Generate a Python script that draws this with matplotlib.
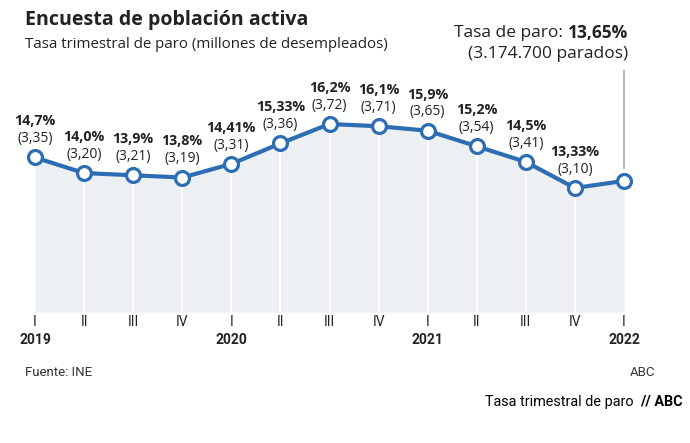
"""
Encuesta de población activa - tasa trimestral de paro
"""

import matplotlib
matplotlib.use('Agg')
import matplotlib.pyplot as plt

plt.rcParams['font.family'] = ['Open Sans', 'DejaVu Sans']

# ==================== datos ====================

trimestres = ['I', 'II', 'III', 'IV', 'I', 'II', 'III', 'IV', 'I', 'II', 'III', 'IV', 'I']
anios = {0: '2019', 4: '2020', 8: '2021', 12: '2022'}
tasa = [14.7, 14.0, 13.9, 13.8, 14.41, 15.33, 16.2, 16.1, 15.9, 15.2, 14.5, 13.33, 13.65]
tasa_txt = ['14,7%', '14,0%', '13,9%', '13,8%', '14,41%', '15,33%', '16,2%',
            '16,1%', '15,9%', '15,2%', '14,5%', '13,33%', None]
parados_txt = ['(3,35)', '(3,20)', '(3,21)', '(3,19)', '(3,31)', '(3,36)', '(3,72)',
               '(3,71)', '(3,65)', '(3,54)', '(3,41)', '(3,10)', None]

AZUL = '#2d6db3'
FONDO = '#edf0f3'
TEXTO = '#222222'

# ==================== figura ====================

W, H = 690, 443
fig = plt.figure(figsize=(W / 100, H / 100), dpi=100)
fig.patch.set_facecolor('white')

# ejes: x de 35 a 624 px, y de 60 a 312 px
ax = fig.add_axes([35 / W, (H - 312) / H, 589 / W, 252 / H])
ax.set_xlim(0, 12)
ax.set_ylim(7.77, 19.07)
ax.axis('off')

x = list(range(len(tasa)))
ax.fill_between(x, tasa, 7.77, color=FONDO, lw=0, zorder=1)
ax.vlines(x[1:-1], 7.77, tasa[1:-1], color='white', lw=1.3, zorder=2)
ax.plot(x, tasa, color=AZUL, lw=3, zorder=3, marker='o', ms=10,
        mfc='white', mec=AZUL, mew=2.3, clip_on=False)

# etiquetas de cada punto
for i, (t, p) in enumerate(zip(tasa_txt, parados_txt)):
    if t is None:
        continue
    ax.annotate(t, (i, tasa[i]), xytext=(0, 26), textcoords='offset points',
                ha='center', va='center', fontsize=10.3, fontweight='bold', color=TEXTO)
    ax.annotate(p, (i, tasa[i]), xytext=(0, 13.5), textcoords='offset points',
                ha='center', va='center', fontsize=10, color=TEXTO)

# eje x: trimestres y años
for i, q in enumerate(trimestres):
    ax.annotate(q, (i, 0), xycoords=('data', 'axes fraction'), xytext=(0, -7.5),
                textcoords='offset points', ha='center', va='center',
                fontsize=10, family='Roboto', color=TEXTO)
for i, a in anios.items():
    ax.annotate(a, (i, 0), xycoords=('data', 'axes fraction'), xytext=(0, -20),
                textcoords='offset points', ha='center', va='center',
                fontsize=10, fontweight='bold', family='Roboto', color=TEXTO)

# línea del último dato
ax.annotate('', (12, tasa[-1]), xycoords='data', xytext=(12, 18.6),
            arrowprops=dict(arrowstyle='-', color='#b0b0b0', lw=1.3, shrinkA=0, shrinkB=9))

# ==================== textos ====================

fig.text(25 / W, 1 - 20 / H, 'Encuesta de población activa', fontsize=14.1,
         fontweight='bold', color=TEXTO, va='center')
fig.text(25 / W, 1 - 45 / H, 'Tasa trimestral de paro (millones de desempleados)',
         fontsize=10.8, color=TEXTO, va='center')

t_bold = fig.text(628 / W, 1 - 33 / H, '13,65%', fontsize=12.5, fontweight='bold',
                  color=TEXTO, va='center', ha='right')
t_paro = fig.text(628 / W, 1 - 33 / H, 'Tasa de paro: ', fontsize=12.5, color=TEXTO,
                  va='center', ha='right')
fig.text(628 / W, 1 - 54 / H, '(3.174.700 parados)', fontsize=12.5, color=TEXTO,
         va='center', ha='right')

fig.text(25 / W, 1 - 372 / H, 'Fuente: INE', fontsize=9.5, color='#333333',
         va='center', family='Roboto')
fig.text(655 / W, 1 - 372 / H, 'ABC', fontsize=9.5, color='#333333',
         va='center', ha='right', family='Roboto')
f_bold = fig.text(683 / W, 1 - 402 / H, '// ABC', fontsize=10.4, fontweight='bold',
                  color='black', va='center', ha='right', family='Roboto')
f_txt = fig.text(683 / W, 1 - 402 / H, 'Tasa trimestral de paro ', fontsize=10.4,
                 color='black', va='center', ha='right', family='Roboto')

fig.canvas.draw()
# texto normal justo a la izquierda de la parte en negrita
t_paro.set_x(t_bold.get_window_extent().x0 / W)
f_txt.set_x((f_bold.get_window_extent().x0 - 3) / W)

fig.savefig('out.png', dpi=100)
